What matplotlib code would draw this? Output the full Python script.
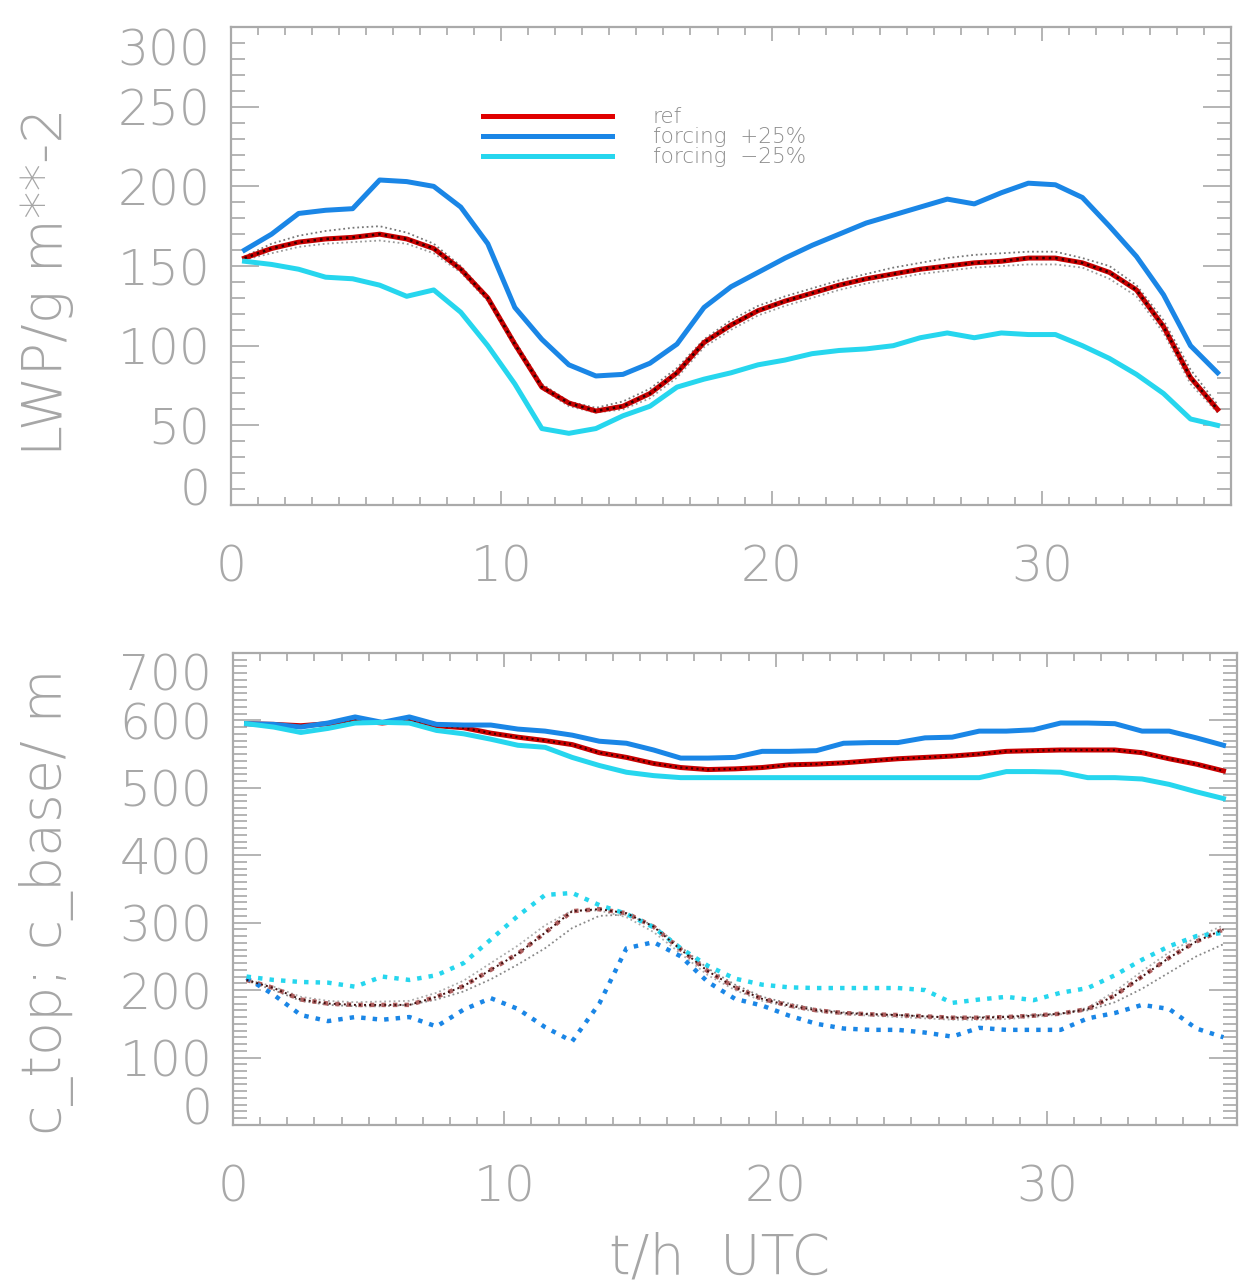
import numpy as np
import matplotlib.pyplot as plt
from matplotlib.lines import Line2D
from matplotlib.ticker import MultipleLocator

# hourly output, t/h UTC
t = np.arange(0.5, 37.0, 1.0)

# liquid water path, g m**-2
lwp_ref = [155, 161, 165, 167, 168, 170, 167, 161, 148, 130, 101, 74, 64, 59, 62, 70, 83,
           102, 113, 122, 128, 133, 138, 142, 145, 148, 150, 152, 153, 155, 155, 152, 146,
           135, 112, 80, 60]
lwp_plus = [160, 170, 183, 185, 186, 204, 203, 200, 187, 164, 124, 104, 88, 81, 82, 89, 101,
            124, 137, 146, 155, 163, 170, 177, 182, 187, 192, 189, 196, 202, 201, 193, 175,
            156, 132, 100, 83]
lwp_minus = [153, 151, 148, 143, 142, 138, 131, 135, 121, 100, 76, 48, 45, 48, 56, 62, 74,
             79, 83, 88, 91, 95, 97, 98, 100, 105, 108, 105, 108, 107, 107, 100, 92, 82, 70,
             54, 50]
# ensemble members around ref
lwp_m1 = [156, 164, 169, 172, 174, 175, 171, 164, 150, 131, 103, 76, 65, 61, 65, 73, 86,
          104, 116, 125, 131, 136, 141, 145, 149, 152, 155, 157, 158, 159, 159, 155, 150,
          138, 116, 85, 63]
lwp_m2 = [154, 158, 162, 164, 165, 166, 164, 158, 146, 128, 99, 73, 62, 58, 60, 67, 80, 99,
          110, 119, 125, 130, 135, 139, 142, 145, 147, 149, 150, 151, 151, 149, 142, 131,
          108, 76, 58]

# cloud top, m
top_ref = [595, 594, 592, 595, 600, 596, 600, 592, 589, 581, 575, 570, 564, 552, 545, 536,
           530, 527, 528, 530, 534, 535, 537, 540, 543, 545, 547, 550, 554, 555, 556, 556,
           556, 552, 543, 535, 525]
top_plus = [595, 594, 590, 596, 605, 597, 605, 594, 593, 593, 587, 584, 578, 569, 566, 556,
            544, 544, 545, 554, 554, 555, 566, 567, 567, 574, 575, 584, 584, 586, 596, 596,
            595, 584, 584, 574, 563]
top_minus = [595, 590, 582, 588, 596, 597, 596, 585, 580, 572, 563, 560, 545, 533, 523, 518,
             515, 515, 515, 515, 515, 515, 515, 515, 515, 515, 515, 515, 524, 524, 523, 515,
             515, 513, 505, 494, 484]

# cloud base, m
base_ref = [215, 203, 186, 180, 178, 178, 178, 190, 206, 230, 254, 285, 317, 320, 314, 294,
            260, 228, 204, 187, 177, 170, 166, 164, 163, 161, 159, 159, 160, 162, 165, 172,
            192, 220, 248, 272, 290]
base_plus = [218, 193, 163, 154, 160, 156, 160, 146, 171, 188, 172, 145, 124, 180, 262, 271,
             250, 212, 187, 177, 162, 150, 143, 141, 141, 137, 131, 144, 141, 141, 141, 158,
             166, 178, 172, 143, 130]
base_minus = [220, 215, 212, 211, 205, 220, 215, 222, 240, 275, 310, 341, 344, 326, 313, 293,
              262, 236, 217, 208, 204, 203, 203, 203, 203, 200, 181, 186, 190, 185, 196, 203,
              222, 245, 265, 280, 285]
base_m1 = [214, 200, 184, 178, 176, 176, 178, 186, 198, 216, 238, 262, 292, 310, 312, 296,
           264, 232, 208, 190, 180, 172, 167, 165, 163, 161, 160, 160, 161, 163, 165, 170,
           182, 202, 226, 250, 268]
base_m2 = [216, 205, 190, 184, 182, 183, 184, 196, 214, 240, 266, 296, 318, 318, 308, 286,
           254, 222, 200, 184, 175, 168, 164, 162, 160, 158, 156, 156, 157, 160, 164, 174,
           198, 228, 256, 278, 296]

labels = ['ref', 'forcing  +25%', 'forcing  \u221225%']
c_ref, c_plus, c_minus = '#c80000', '#1a86e6', '#26d6ee'
grey = '#a6a6a6'

plt.rcParams['font.family'] = ['DejaVu Sans']
plt.rcParams['font.weight'] = 200
plt.rcParams['axes.labelweight'] = 200

fig = plt.figure(figsize=(12.4, 12.88), dpi=100)
ax1 = fig.add_axes([0.1863, 0.6079, 0.8065, 0.3711])
ax2 = fig.add_axes([0.1879, 0.1266, 0.8097, 0.3665])

dots = (0, (1, 1.6))

# LWP panel
ax1.plot(t, lwp_m1, color='#777777', lw=1.3, ls=dots, zorder=2)
ax1.plot(t, lwp_m2, color='#999999', lw=1.3, ls=dots, zorder=2)
ax1.plot(t, lwp_ref, color=c_ref, lw=3.6, zorder=3)
ax1.plot(t, lwp_ref, color='#300000', lw=1.8, ls=dots, zorder=4)
ax1.plot(t, lwp_plus, color=c_plus, lw=3.6, zorder=5)
ax1.plot(t, lwp_minus, color=c_minus, lw=3.6, zorder=5)

handles = [Line2D([], [], color=c, lw=3.6) for c in ('#e00000', c_plus, c_minus)]
ax1.legend(handles, labels, loc='upper left', bbox_to_anchor=(0.241, 0.855),
           frameon=False, fontsize=15.5, labelcolor='#8c8c8c', handlelength=6.0,
           handletextpad=1.9, labelspacing=0.0, borderpad=0)

# cloud top / base panel
ax2.plot(t, top_ref, color=c_ref, lw=3.6, zorder=3)
ax2.plot(t, top_ref, color='#400000', lw=1.5, ls=dots, zorder=4)
ax2.plot(t, top_plus, color=c_plus, lw=3.6, zorder=5)
ax2.plot(t, top_minus, color=c_minus, lw=3.6, zorder=5)

ax2.plot(t, base_m1, color='#888888', lw=1.3, ls=dots, zorder=2)
ax2.plot(t, base_m2, color='#aaaaaa', lw=1.3, ls=dots, zorder=2)
ax2.plot(t, base_ref, color='#b06060', lw=3.2, ls=dots, zorder=3)
ax2.plot(t, base_ref, color='#401010', lw=1.4, ls=dots, zorder=4)
ax2.plot(t, base_plus, color=c_plus, lw=3.2, ls=dots, zorder=3)
ax2.plot(t, base_minus, color=c_minus, lw=3.2, ls=dots, zorder=3)

for ax, ymax, yticks in ((ax1, 300, range(0, 301, 50)), (ax2, 700, range(0, 701, 100))):
    ax.set_xlim(0, 37)
    ax.set_ylim(0, ymax)
    ax.set_xticks([0, 10, 20, 30])
    ax.set_yticks(list(yticks))
    ax.xaxis.set_minor_locator(MultipleLocator(1))
    ax.yaxis.set_minor_locator(MultipleLocator(10))
    ax.tick_params(which='both', direction='in', top=True, right=True, color='#b4b4b4',
                   width=1.4, labelcolor='#a8a8a8', labelsize=35)
    ax.tick_params(axis='x', which='major', length=10, pad=28)
    ax.tick_params(axis='x', which='minor', length=6)
    ax.tick_params(axis='y', which='major', length=20, pad=15)
    ax.tick_params(axis='y', which='minor', length=10)
    for s in ax.spines.values():
        s.set_color('#aaaaaa')
        s.set_linewidth(1.6)
    ylabs = ax.get_yticklabels()
    ylabs[0].set_va('baseline')
    ylabs[-1].set_va('top')

ax1.set_ylabel('LWP/g m**-2', fontsize=40, color=grey)
ax1.yaxis.set_label_coords(-0.157, 0.467)
ax2.set_ylabel('c_top; c_base/ m', fontsize=40, color=grey)
ax2.yaxis.set_label_coords(-0.158, 0.472)
ax2.set_xlabel('t/h  UTC', fontsize=40, color=grey)
ax2.xaxis.set_label_coords(0.485, -0.225)

fig.savefig('out.png', dpi=100)
